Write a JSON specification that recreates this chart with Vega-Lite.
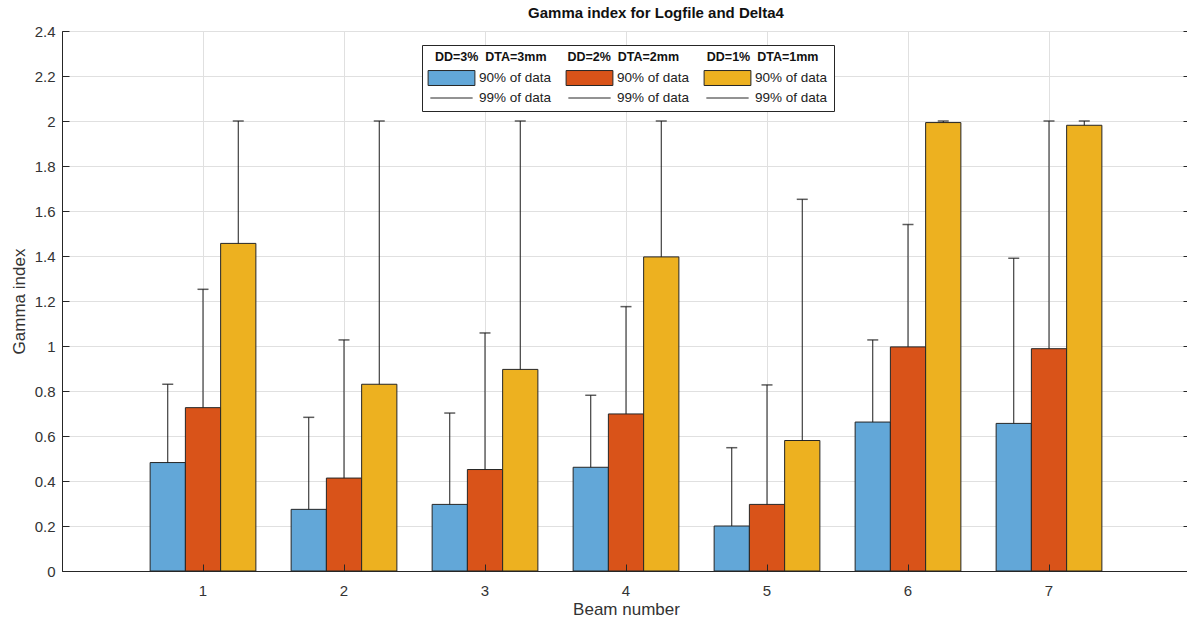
{
  "$schema": "https://vega.github.io/schema/vega-lite/v6.json",
  "width": 1128,
  "height": 540,
  "autosize": "none",
  "padding": {"left": 62, "top": 31, "right": 0, "bottom": 50},
  "background": "white",
  "title": {"text": "Gamma index for Logfile and Delta4", "fontSize": 15, "fontWeight": "bold", "font": "Liberation Sans", "color": "#111111", "offset": 3, "dx": 30},
  "config": {
    "font": "Liberation Sans",
    "view": {"stroke": "#262626", "strokeWidth": 1},
    "axis": {
      "labelFont": "Liberation Sans", "labelFontSize": 15, "labelColor": "#333333",
      "titleFont": "Liberation Sans", "titleFontSize": 17, "titleFontWeight": "normal", "titleColor": "#333333",
      "domainColor": "#262626", "tickColor": "#262626", "tickSize": -7,
      "gridColor": "#e0e0e0", "gridWidth": 1
    }
  },
  "data": {"values": [
    {"beam": 1, "series": "DD=3% DTA=3mm", "p90": 0.482, "p99": 0.830},
    {"beam": 1, "series": "DD=2% DTA=2mm", "p90": 0.726, "p99": 1.252},
    {"beam": 1, "series": "DD=1% DTA=1mm", "p90": 1.456, "p99": 2.0},
    {"beam": 2, "series": "DD=3% DTA=3mm", "p90": 0.274, "p99": 0.683},
    {"beam": 2, "series": "DD=2% DTA=2mm", "p90": 0.413, "p99": 1.027},
    {"beam": 2, "series": "DD=1% DTA=1mm", "p90": 0.830, "p99": 2.0},
    {"beam": 3, "series": "DD=3% DTA=3mm", "p90": 0.296, "p99": 0.702},
    {"beam": 3, "series": "DD=2% DTA=2mm", "p90": 0.451, "p99": 1.058},
    {"beam": 3, "series": "DD=1% DTA=1mm", "p90": 0.896, "p99": 2.0},
    {"beam": 4, "series": "DD=3% DTA=3mm", "p90": 0.461, "p99": 0.781},
    {"beam": 4, "series": "DD=2% DTA=2mm", "p90": 0.698, "p99": 1.175},
    {"beam": 4, "series": "DD=1% DTA=1mm", "p90": 1.396, "p99": 2.0},
    {"beam": 5, "series": "DD=3% DTA=3mm", "p90": 0.200, "p99": 0.548},
    {"beam": 5, "series": "DD=2% DTA=2mm", "p90": 0.296, "p99": 0.827},
    {"beam": 5, "series": "DD=1% DTA=1mm", "p90": 0.580, "p99": 1.652},
    {"beam": 6, "series": "DD=3% DTA=3mm", "p90": 0.662, "p99": 1.027},
    {"beam": 6, "series": "DD=2% DTA=2mm", "p90": 0.996, "p99": 1.540},
    {"beam": 6, "series": "DD=1% DTA=1mm", "p90": 1.993, "p99": 2.0},
    {"beam": 7, "series": "DD=3% DTA=3mm", "p90": 0.656, "p99": 1.390},
    {"beam": 7, "series": "DD=2% DTA=2mm", "p90": 0.988, "p99": 2.0},
    {"beam": 7, "series": "DD=1% DTA=1mm", "p90": 1.981, "p99": 2.0}
  ]},
  "encoding": {
    "xOffset": {
      "field": "series", "type": "nominal",
      "scale": {"domain": ["DD=3% DTA=3mm", "DD=2% DTA=2mm", "DD=1% DTA=1mm"], "paddingInner": 0, "paddingOuter": 0.5}
    }
  },
  "layer": [
    {
      "encoding": {
        "x": {
          "field": "beam", "type": "ordinal", "title": "Beam number",
          "scale": {"paddingInner": 0, "paddingOuter": 0.5},
          "axis": {"orient": "bottom", "labelAngle": 0, "bandPosition": 0.5, "grid": false, "ticks": true, "labelPadding": 19, "titlePadding": 3, "zindex": 1}
        },
        "y": {
          "field": "p90", "type": "quantitative", "title": "Gamma index",
          "scale": {"domain": [0, 2.4], "nice": false},
          "axis": {"orient": "left", "values": [0, 0.2, 0.4, 0.6, 0.8, 1, 1.2, 1.4, 1.6, 1.8, 2, 2.2, 2.4], "format": "~g", "grid": true, "labelPadding": 14, "titlePadding": 6}
        }
      },
      "layer": [
        {
          "mark": {"type": "bar", "stroke": "#262626", "strokeWidth": 1},
          "encoding": {
            "fill": {
              "field": "series", "type": "nominal", "legend": null,
              "scale": {"domain": ["DD=3% DTA=3mm", "DD=2% DTA=2mm", "DD=1% DTA=1mm"], "range": ["#62a7d8", "#d95319", "#edb120"]}
            }
          }
        },
        {
          "mark": {"type": "rule", "color": "#1a1a1a", "strokeWidth": 1},
          "encoding": {
            "y2": {"field": "p99"}
          }
        },
        {
          "transform": [{"filter": "false"}],
          "mark": {"type": "point", "filled": true, "opacity": 1},
          "encoding": {
            "color": {
              "field": "key", "type": "nominal",
              "scale": {"domain": ["k1_90", "k2_90", "k3_90", "k1_99", "k2_99", "k3_99"], "range": ["#62a7d8", "#d95319", "#edb120", "#262626", "#262626", "#262626"]},
              "legend": {"title": "\u200b\u00a0\u00a0DD=3%\u00a0\u00a0DTA=3mm\u00a0\u00a0\u00a0\u00a0\u00a0\u00a0DD=2%\u00a0\u00a0DTA=2mm\u00a0\u00a0\u00a0\u00a0\u00a0\u00a0\u00a0\u00a0DD=1%\u00a0\u00a0DTA=1mm", "orient": "none", "legendX": 360, "legendY": 14, "columns": 3, "direction": "horizontal", "columnPadding": 12, "rowPadding": 1, "symbolSize": 324, "symbolOffset": 14, "labelOffset": 18, "symbolStrokeWidth": 1, "labelFontSize": 13.5, "labelColor": "#222222", "labelFont": "Liberation Sans", "titleFontSize": 12.5, "titleFontWeight": "bold", "titleColor": "#111111", "titleFont": "Liberation Sans", "titlePadding": 5, "padding": 6, "strokeColor": "#262626", "fillColor": "white", "titleLimit": 600, "labelExpr": "test(/90/, datum.value) ? '90% of data' : '99% of data'"}
            },
            "stroke": {
              "field": "key", "type": "nominal",
              "scale": {"domain": ["k1_90", "k2_90", "k3_90", "k1_99", "k2_99", "k3_99"], "range": ["#262626", "#262626", "#262626", "#262626", "#262626", "#262626"]},
              "legend": {"title": "\u200b\u00a0\u00a0DD=3%\u00a0\u00a0DTA=3mm\u00a0\u00a0\u00a0\u00a0\u00a0\u00a0DD=2%\u00a0\u00a0DTA=2mm\u00a0\u00a0\u00a0\u00a0\u00a0\u00a0\u00a0\u00a0DD=1%\u00a0\u00a0DTA=1mm", "orient": "none", "legendX": 360, "legendY": 14, "columns": 3, "direction": "horizontal", "columnPadding": 12, "rowPadding": 1, "symbolSize": 324, "symbolOffset": 14, "labelOffset": 18, "symbolStrokeWidth": 1, "labelFontSize": 13.5, "labelColor": "#222222", "labelFont": "Liberation Sans", "titleFontSize": 12.5, "titleFontWeight": "bold", "titleColor": "#111111", "titleFont": "Liberation Sans", "titlePadding": 5, "padding": 6, "strokeColor": "#262626", "fillColor": "white", "titleLimit": 600, "labelExpr": "test(/90/, datum.value) ? '90% of data' : '99% of data'"}
            },
            "shape": {
              "field": "key", "type": "nominal",
              "scale": {"domain": ["k1_90", "k2_90", "k3_90", "k1_99", "k2_99", "k3_99"], "range": ["M-2.6,-0.83H2.6V0.83H-2.6Z", "M-2.6,-0.83H2.6V0.83H-2.6Z", "M-2.6,-0.83H2.6V0.83H-2.6Z", "M-2.35,0H2.35", "M-2.35,0H2.35", "M-2.35,0H2.35"]},
              "legend": {"title": "\u200b\u00a0\u00a0DD=3%\u00a0\u00a0DTA=3mm\u00a0\u00a0\u00a0\u00a0\u00a0\u00a0DD=2%\u00a0\u00a0DTA=2mm\u00a0\u00a0\u00a0\u00a0\u00a0\u00a0\u00a0\u00a0DD=1%\u00a0\u00a0DTA=1mm", "orient": "none", "legendX": 360, "legendY": 14, "columns": 3, "direction": "horizontal", "columnPadding": 12, "rowPadding": 1, "symbolSize": 324, "symbolOffset": 14, "labelOffset": 18, "symbolStrokeWidth": 1, "labelFontSize": 13.5, "labelColor": "#222222", "labelFont": "Liberation Sans", "titleFontSize": 12.5, "titleFontWeight": "bold", "titleColor": "#111111", "titleFont": "Liberation Sans", "titlePadding": 5, "padding": 6, "strokeColor": "#262626", "fillColor": "white", "titleLimit": 600, "labelExpr": "test(/90/, datum.value) ? '90% of data' : '99% of data'"}
            }
          }
        }
      ]
    },
    {
      "mark": {"type": "tick", "orient": "horizontal", "size": 11, "thickness": 1.5, "color": "#1a1a1a"},
      "encoding": {
        "x": {
          "field": "beam", "type": "ordinal", "title": null,
          "scale": {"paddingInner": 0, "paddingOuter": 0.5},
          "axis": {"orient": "bottom", "bandPosition": 0.5, "grid": true, "labels": false, "domain": false, "ticks": false, "title": null, "zindex": 0}
        },
        "y": {
          "field": "p99", "type": "quantitative", "title": null,
          "axis": {"orient": "right", "values": [0, 0.2, 0.4, 0.6, 0.8, 1, 1.2, 1.4, 1.6, 1.8, 2, 2.2, 2.4], "labels": false, "grid": false, "domain": false, "title": null}
        }
      }
    }
  ],
  "resolve": {"axis": {"y": "independent", "x": "independent"}}
}
